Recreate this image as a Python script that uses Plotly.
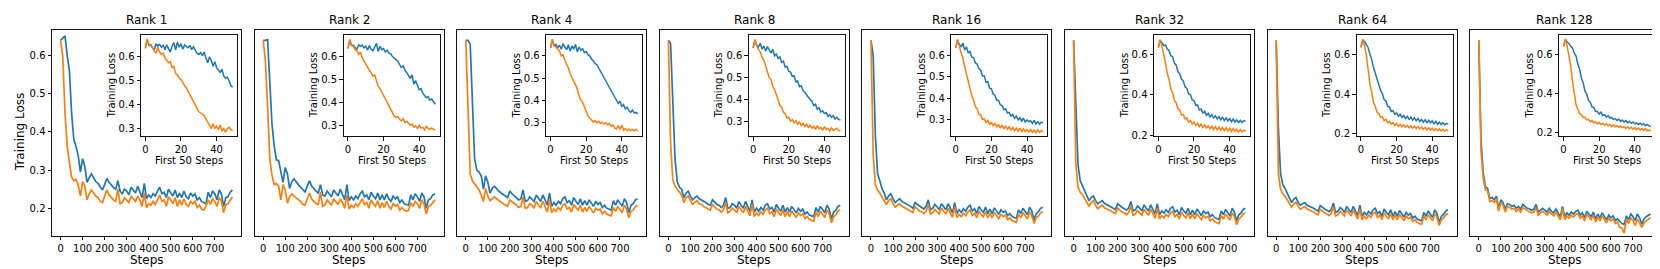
import plotly.graph_objects as go

# ---------------- data ----------------
ranks = ["Rank 1", "Rank 2", "Rank 4", "Rank 8", "Rank 16", "Rank 32", "Rank 64", "Rank 128"]
steps = list(range(0, 790, 10))
first_steps = list(range(0, 50))

r1_blue = [0.640,0.645,0.652,0.600,0.560,0.450,0.380,0.362,0.338,0.295,0.330,0.310,0.268,0.280,0.290,
           0.280,0.270,0.265,0.255,0.248, 0.262,0.278,0.268,0.260,0.255, 0.250,0.272,0.245,0.238,0.250,
           0.245,0.235,0.255,0.248,0.240, 0.258,0.245,0.228,0.265,0.225, 0.235,0.228,0.238,0.232,0.245,
           0.255,0.238,0.242,0.228,0.250, 0.240,0.232,0.248,0.228,0.240, 0.228,0.245,0.230,0.225,0.240,
           0.232,0.238,0.222,0.228,0.218, 0.215,0.212,0.242,0.228,0.245, 0.238,0.222,0.248,0.238,0.205,
           0.228,0.230,0.242,0.248]
r1_orange = [0.640,0.596,0.450,0.362,0.320,0.282,0.272,0.276,0.260,0.232,0.270,0.258,0.222,0.238,0.248,
             0.240,0.232,0.228,0.218,0.215, 0.232,0.248,0.235,0.228,0.222, 0.218,0.250,0.212,0.215,0.228,
             0.222,0.215,0.232,0.225,0.218, 0.232,0.222,0.205,0.240,0.202, 0.212,0.208,0.218,0.210,0.222,
             0.235,0.218,0.222,0.205,0.230, 0.222,0.212,0.228,0.205,0.222, 0.208,0.225,0.210,0.205,0.218,
             0.212,0.218,0.202,0.208,0.198, 0.195,0.205,0.222,0.210,0.225, 0.218,0.205,0.228,0.218,0.188,
             0.210,0.212,0.222,0.230]
r2_blue = [0.640,0.640,0.642,0.520,0.420,0.363,0.327,0.325,0.300,0.268,0.307,0.290,0.252,0.270,0.277,
           0.268,0.262,0.255,0.250,0.243, 0.258,0.272,0.258,0.250,0.245, 0.240,0.262,0.235,0.232,0.245,
           0.238,0.230,0.248,0.240,0.232, 0.250,0.238,0.222,0.262,0.220, 0.230,0.222,0.232,0.225,0.238,
           0.245,0.230,0.235,0.222,0.242, 0.232,0.225,0.240,0.222,0.235, 0.222,0.238,0.225,0.218,0.232,
           0.225,0.230,0.215,0.222,0.212, 0.210,0.208,0.235,0.222,0.238, 0.230,0.218,0.240,0.230,0.200,
           0.222,0.225,0.235,0.238]
r2_orange = [0.640,0.587,0.467,0.330,0.286,0.262,0.265,0.258,0.222,0.262,0.248,0.213,0.230,0.238,0.232,
             0.228,0.222,0.218,0.210,0.208, 0.225,0.240,0.225,0.218,0.212, 0.210,0.242,0.205,0.208,0.222,
             0.215,0.208,0.225,0.218,0.210, 0.225,0.215,0.200,0.235,0.198, 0.208,0.202,0.212,0.205,0.215,
             0.225,0.210,0.215,0.200,0.222, 0.212,0.205,0.220,0.200,0.215, 0.202,0.218,0.205,0.198,0.212,
             0.205,0.210,0.195,0.202,0.195, 0.192,0.195,0.215,0.205,0.218, 0.212,0.200,0.222,0.212,0.185,
             0.205,0.208,0.215,0.222]
r4_blue = [0.640,0.640,0.630,0.470,0.330,0.300,0.295,0.285,0.250,0.285,0.268,0.240,0.252,0.258,0.250,
           0.245,0.240,0.235,0.232,0.228, 0.245,0.238,0.232,0.228,0.222, 0.225,0.248,0.218,0.220,0.230,
           0.225,0.218,0.235,0.225,0.218, 0.235,0.222,0.208,0.240,0.205, 0.215,0.208,0.218,0.212,0.225,
           0.230,0.215,0.220,0.208,0.228, 0.218,0.210,0.225,0.208,0.220, 0.208,0.222,0.212,0.205,0.218,
           0.210,0.215,0.202,0.208,0.200, 0.198,0.195,0.220,0.208,0.222, 0.215,0.205,0.225,0.215,0.188,
           0.208,0.212,0.222,0.225]
r4_orange = [0.640,0.450,0.290,0.272,0.265,0.255,0.248,0.235,0.218,0.252,0.232,0.220,0.226,0.230,0.225,
             0.220,0.215,0.212,0.208,0.205, 0.222,0.218,0.212,0.208,0.202, 0.205,0.230,0.200,0.202,0.212,
             0.208,0.200,0.218,0.208,0.202, 0.218,0.205,0.190,0.222,0.188, 0.198,0.192,0.202,0.195,0.208,
             0.212,0.198,0.202,0.190,0.210, 0.202,0.195,0.208,0.190,0.202, 0.192,0.205,0.195,0.188,0.200,
             0.195,0.198,0.185,0.192,0.185, 0.182,0.180,0.202,0.192,0.205, 0.198,0.188,0.208,0.198,0.175,
             0.192,0.195,0.205,0.208]
r8_blue = [0.640,0.632,0.480,0.330,0.270,0.255,0.250,0.228,0.240,0.245,0.232,0.222,0.228,0.232,0.225,
           0.222,0.218,0.215,0.210,0.208, 0.222,0.215,0.210,0.208,0.202, 0.208,0.228,0.200,0.202,0.212,
           0.208,0.200,0.218,0.208,0.200, 0.218,0.205,0.192,0.222,0.190, 0.200,0.192,0.202,0.195,0.208,
           0.212,0.198,0.202,0.190,0.210, 0.200,0.192,0.208,0.190,0.202, 0.190,0.205,0.195,0.188,0.200,
           0.192,0.198,0.185,0.190,0.182, 0.180,0.178,0.202,0.190,0.205, 0.198,0.188,0.208,0.198,0.172,
           0.190,0.195,0.205,0.208]
r8_orange = [0.640,0.370,0.275,0.258,0.250,0.242,0.235,0.215,0.228,0.232,0.220,0.210,0.216,0.220,0.212,
             0.210,0.205,0.202,0.198,0.195, 0.210,0.204,0.198,0.196,0.190, 0.196,0.215,0.188,0.192,0.200,
             0.196,0.188,0.205,0.196,0.188, 0.205,0.194,0.180,0.210,0.178, 0.188,0.181,0.191,0.184,0.196,
             0.200,0.186,0.191,0.178,0.198, 0.189,0.181,0.196,0.178,0.191, 0.178,0.193,0.183,0.176,0.188,
             0.181,0.186,0.173,0.178,0.171, 0.168,0.166,0.190,0.178,0.193, 0.186,0.176,0.196,0.186,0.162,
             0.178,0.183,0.193,0.196]
r16_blue = [0.640,0.600,0.390,0.290,0.272,0.252,0.240,0.222,0.232,0.238,0.225,0.215,0.220,0.225,0.218,
            0.215,0.210,0.208,0.205,0.200, 0.215,0.210,0.205,0.202,0.198, 0.205,0.222,0.196,0.200,0.210,
            0.204,0.196,0.212,0.204,0.196, 0.212,0.200,0.188,0.215,0.186, 0.196,0.189,0.199,0.192,0.203,
            0.208,0.193,0.199,0.186,0.205, 0.196,0.189,0.203,0.186,0.198, 0.186,0.201,0.191,0.184,0.196,
            0.189,0.193,0.181,0.186,0.179, 0.176,0.174,0.196,0.186,0.200, 0.193,0.183,0.203,0.193,0.170,
            0.186,0.191,0.200,0.203]
r16_orange = [0.640,0.340,0.262,0.248,0.240,0.230,0.222,0.210,0.220,0.225,0.212,0.203,0.208,0.212,0.206,
              0.203,0.199,0.196,0.192,0.189, 0.204,0.198,0.193,0.191,0.186, 0.192,0.210,0.185,0.188,0.197,
              0.192,0.185,0.200,0.192,0.185, 0.200,0.188,0.176,0.204,0.175, 0.184,0.178,0.187,0.181,0.191,
              0.196,0.181,0.187,0.175,0.193, 0.184,0.178,0.191,0.175,0.187, 0.175,0.189,0.180,0.173,0.184,
              0.178,0.182,0.170,0.175,0.168, 0.165,0.163,0.184,0.175,0.188, 0.181,0.172,0.191,0.181,0.160,
              0.175,0.180,0.188,0.191]
r32_blue = [0.640,0.490,0.315,0.272,0.260,0.245,0.233,0.220,0.228,0.232,0.220,0.212,0.216,0.220,0.213,
            0.210,0.207,0.204,0.200,0.197, 0.212,0.206,0.202,0.199,0.195, 0.201,0.218,0.193,0.196,0.206,
            0.201,0.193,0.209,0.200,0.193, 0.209,0.197,0.185,0.212,0.183, 0.193,0.187,0.196,0.189,0.200,
            0.204,0.190,0.195,0.183,0.202, 0.193,0.187,0.200,0.183,0.195, 0.183,0.198,0.188,0.181,0.193,
            0.186,0.190,0.178,0.183,0.176, 0.173,0.171,0.193,0.183,0.197, 0.190,0.180,0.200,0.190,0.167,
            0.183,0.188,0.197,0.200]
r32_orange = [0.640,0.320,0.255,0.242,0.236,0.225,0.218,0.206,0.215,0.220,0.208,0.199,0.204,0.208,0.201,
              0.199,0.196,0.193,0.189,0.186, 0.200,0.195,0.190,0.188,0.183, 0.189,0.206,0.182,0.185,0.194,
              0.189,0.182,0.197,0.189,0.182, 0.197,0.185,0.174,0.200,0.172, 0.181,0.175,0.184,0.178,0.188,
              0.192,0.178,0.184,0.172,0.190, 0.181,0.175,0.188,0.172,0.184, 0.172,0.186,0.177,0.170,0.181,
              0.175,0.179,0.167,0.172,0.165, 0.162,0.160,0.181,0.172,0.185, 0.178,0.169,0.188,0.178,0.157,
              0.172,0.177,0.185,0.188]
r64_blue = [0.640,0.410,0.290,0.262,0.252,0.238,0.228,0.215,0.224,0.228,0.215,0.208,0.212,0.215,0.208,
            0.206,0.203,0.200,0.196,0.193, 0.207,0.202,0.198,0.195,0.191, 0.197,0.214,0.189,0.192,0.202,
            0.197,0.189,0.205,0.196,0.189, 0.205,0.193,0.181,0.208,0.179, 0.189,0.183,0.192,0.185,0.196,
            0.200,0.186,0.191,0.179,0.198, 0.189,0.183,0.196,0.179,0.191, 0.179,0.194,0.184,0.177,0.189,
            0.182,0.186,0.174,0.179,0.172, 0.169,0.167,0.189,0.179,0.193, 0.186,0.176,0.196,0.186,0.163,
            0.179,0.184,0.193,0.196]
r64_orange = [0.640,0.290,0.250,0.238,0.232,0.222,0.215,0.203,0.212,0.216,0.205,0.197,0.201,0.205,0.198,
              0.196,0.193,0.190,0.186,0.183, 0.197,0.192,0.188,0.185,0.181, 0.187,0.204,0.180,0.183,0.192,
              0.187,0.180,0.195,0.187,0.180, 0.195,0.183,0.172,0.198,0.170, 0.179,0.173,0.182,0.176,0.186,
              0.190,0.176,0.182,0.170,0.188, 0.179,0.173,0.186,0.170,0.182, 0.170,0.184,0.175,0.168,0.179,
              0.173,0.177,0.165,0.170,0.163, 0.160,0.158,0.179,0.170,0.183, 0.176,0.167,0.186,0.176,0.155,
              0.170,0.175,0.183,0.186]
r128_blue = [0.640,0.380,0.295,0.256,0.252,0.226,0.228,0.222,0.232,0.200,0.222,0.215,0.198,0.212,0.210,
             0.205,0.208,0.200,0.205,0.198, 0.210,0.205,0.200,0.198,0.195, 0.198,0.210,0.190,0.195,0.200,
             0.195,0.190,0.200,0.192,0.188, 0.198,0.188,0.178,0.205,0.178, 0.188,0.182,0.190,0.185,0.192,
             0.195,0.182,0.188,0.175,0.192, 0.185,0.178,0.190,0.172,0.185, 0.175,0.188,0.178,0.170,0.182,
             0.175,0.180,0.168,0.172,0.165, 0.160,0.158,0.180,0.170,0.185, 0.178,0.168,0.185,0.175,0.158,
             0.172,0.178,0.182,0.185]
r128_orange = [0.640,0.350,0.280,0.248,0.245,0.218,0.220,0.215,0.225,0.192,0.215,0.208,0.190,0.205,0.202,
               0.198,0.200,0.192,0.198,0.190, 0.202,0.198,0.192,0.190,0.188, 0.190,0.202,0.182,0.188,0.192,
               0.188,0.182,0.192,0.185,0.180, 0.190,0.180,0.170,0.198,0.170, 0.180,0.174,0.182,0.177,0.184,
               0.187,0.174,0.180,0.167,0.184, 0.177,0.170,0.182,0.164,0.177, 0.167,0.180,0.170,0.162,0.174,
               0.167,0.172,0.160,0.164,0.150, 0.148,0.135,0.172,0.160,0.175, 0.168,0.155,0.172,0.162,0.150,
               0.162,0.168,0.172,0.175]

# first 50 steps (inset)
i1_blue = [0.635,0.672,0.648,0.652,0.638,0.628,0.655,0.645,0.652,0.640,0.648,0.630,0.650,0.636,0.620,0.645,0.660,0.628,0.662,0.640,
           0.655,0.632,0.650,0.644,0.638,0.648,0.630,0.642,0.628,0.615,0.610,0.618,0.605,0.620,0.595,0.575,0.600,0.585,0.560,0.580,
           0.555,0.545,0.535,0.548,0.520,0.510,0.515,0.500,0.480,0.473]
i1_orange = [0.638,0.675,0.652,0.645,0.640,0.625,0.615,0.640,0.620,0.610,0.615,0.595,0.585,0.575,0.580,0.555,0.560,0.530,0.525,0.510,
             0.505,0.490,0.480,0.470,0.455,0.440,0.425,0.410,0.400,0.385,0.370,0.365,0.360,0.355,0.340,0.325,0.310,0.300,0.320,0.300,
             0.310,0.295,0.315,0.290,0.300,0.285,0.300,0.305,0.295,0.290]
i2_blue = [0.635,0.672,0.648,0.650,0.640,0.632,0.652,0.645,0.650,0.638,0.645,0.628,0.648,0.632,0.625,0.640,0.658,0.622,0.645,0.630,
           0.635,0.620,0.628,0.615,0.612,0.600,0.592,0.585,0.580,0.565,0.552,0.560,0.540,0.530,0.515,0.505,0.520,0.480,0.495,0.470,
           0.455,0.460,0.440,0.430,0.420,0.425,0.410,0.415,0.400,0.392]
i2_orange = [0.638,0.675,0.650,0.645,0.630,0.625,0.610,0.620,0.595,0.580,0.570,0.555,0.540,0.530,0.515,0.520,0.495,0.470,0.460,0.445,
             0.430,0.420,0.400,0.385,0.370,0.355,0.340,0.335,0.338,0.325,0.320,0.328,0.312,0.318,0.310,0.300,0.305,0.292,0.298,0.285,
             0.300,0.288,0.292,0.280,0.295,0.285,0.282,0.288,0.282,0.280]
i4_blue = [0.635,0.672,0.645,0.652,0.636,0.648,0.630,0.655,0.640,0.628,0.650,0.622,0.645,0.630,0.652,0.618,0.640,0.625,0.632,0.615,
           0.620,0.605,0.600,0.585,0.578,0.565,0.560,0.545,0.530,0.515,0.500,0.490,0.470,0.460,0.440,0.425,0.415,0.400,0.385,0.395,
           0.372,0.380,0.360,0.368,0.352,0.345,0.355,0.342,0.345,0.338]
i4_orange = [0.638,0.675,0.648,0.640,0.628,0.622,0.600,0.605,0.580,0.565,0.545,0.520,0.500,0.485,0.470,0.450,0.420,0.400,0.390,0.370,
             0.345,0.330,0.318,0.310,0.302,0.308,0.298,0.305,0.295,0.300,0.292,0.298,0.288,0.295,0.282,0.288,0.275,0.270,0.285,0.268,
             0.288,0.265,0.272,0.262,0.270,0.262,0.268,0.262,0.268,0.262]
i8_blue = [0.635,0.672,0.648,0.640,0.658,0.630,0.645,0.622,0.642,0.625,0.612,0.630,0.600,0.608,0.588,0.595,0.570,0.575,0.548,0.552,
           0.528,0.525,0.505,0.508,0.480,0.485,0.458,0.462,0.440,0.432,0.418,0.410,0.400,0.392,0.372,0.378,0.355,0.362,0.342,0.348,
           0.335,0.340,0.322,0.330,0.318,0.325,0.310,0.318,0.308,0.305]
i8_orange = [0.638,0.675,0.648,0.628,0.618,0.592,0.580,0.552,0.535,0.500,0.492,0.460,0.445,0.415,0.398,0.372,0.365,0.340,0.335,0.315,
             0.318,0.300,0.308,0.292,0.302,0.285,0.298,0.280,0.290,0.276,0.288,0.270,0.282,0.268,0.278,0.262,0.280,0.265,0.272,0.258,
             0.275,0.262,0.268,0.255,0.270,0.258,0.262,0.268,0.258,0.256]
i16_blue = [0.635,0.672,0.652,0.640,0.658,0.625,0.640,0.612,0.618,0.592,0.590,0.565,0.560,0.538,0.532,0.505,0.505,0.475,0.478,0.448,
            0.445,0.420,0.415,0.392,0.392,0.370,0.368,0.348,0.352,0.332,0.335,0.318,0.325,0.308,0.318,0.300,0.310,0.295,0.308,0.290,
            0.300,0.292,0.296,0.284,0.298,0.282,0.292,0.280,0.290,0.286]
i16_orange = [0.638,0.675,0.642,0.615,0.585,0.548,0.512,0.475,0.448,0.412,0.392,0.362,0.352,0.325,0.325,0.302,0.305,0.288,0.298,0.278,
              0.290,0.272,0.284,0.268,0.280,0.262,0.276,0.258,0.272,0.256,0.268,0.252,0.265,0.250,0.262,0.248,0.262,0.245,0.258,0.246,
              0.256,0.244,0.255,0.242,0.252,0.240,0.254,0.242,0.250,0.246]
i32_blue = [0.635,0.672,0.660,0.645,0.648,0.628,0.620,0.595,0.590,0.558,0.548,0.515,0.505,0.478,0.470,0.440,0.432,0.405,0.402,0.375,
            0.372,0.348,0.350,0.325,0.330,0.310,0.318,0.298,0.308,0.290,0.302,0.285,0.296,0.280,0.292,0.276,0.290,0.272,0.285,0.270,
            0.282,0.266,0.280,0.264,0.276,0.262,0.274,0.262,0.272,0.268]
i32_orange = [0.638,0.675,0.640,0.605,0.560,0.505,0.478,0.430,0.410,0.372,0.360,0.330,0.325,0.300,0.302,0.280,0.285,0.265,0.272,0.255,
              0.265,0.248,0.258,0.242,0.254,0.238,0.250,0.235,0.246,0.232,0.244,0.228,0.242,0.226,0.240,0.224,0.238,0.222,0.236,0.220,
              0.234,0.218,0.232,0.218,0.230,0.215,0.228,0.216,0.224,0.220]
i64_blue = [0.635,0.672,0.665,0.648,0.635,0.602,0.575,0.535,0.508,0.470,0.452,0.418,0.402,0.372,0.365,0.338,0.335,0.312,0.316,0.298,
            0.305,0.288,0.298,0.282,0.292,0.276,0.288,0.272,0.284,0.268,0.280,0.265,0.276,0.262,0.272,0.258,0.270,0.256,0.268,0.254,
            0.265,0.250,0.262,0.248,0.258,0.246,0.256,0.244,0.252,0.248]
i64_orange = [0.638,0.675,0.645,0.598,0.525,0.452,0.410,0.358,0.340,0.308,0.302,0.282,0.285,0.266,0.272,0.255,0.262,0.248,0.256,0.242,
              0.252,0.238,0.248,0.235,0.245,0.232,0.242,0.230,0.240,0.228,0.238,0.226,0.236,0.224,0.234,0.222,0.232,0.220,0.230,0.218,
              0.228,0.216,0.226,0.215,0.224,0.214,0.222,0.212,0.220,0.214]
i128_blue = [0.640,0.675,0.662,0.655,0.640,0.632,0.605,0.592,0.550,0.525,0.478,0.455,0.412,0.398,0.365,0.355,0.332,0.328,0.308,0.308,
             0.295,0.305,0.288,0.292,0.280,0.286,0.275,0.278,0.268,0.272,0.262,0.270,0.258,0.265,0.255,0.262,0.250,0.258,0.248,0.255,
             0.245,0.250,0.242,0.248,0.240,0.246,0.236,0.242,0.235,0.232]
i128_orange = [0.640,0.678,0.642,0.598,0.542,0.462,0.395,0.342,0.320,0.298,0.292,0.278,0.278,0.265,0.268,0.255,0.262,0.250,0.256,0.245,
               0.252,0.242,0.248,0.238,0.246,0.236,0.242,0.232,0.240,0.230,0.236,0.228,0.234,0.225,0.232,0.222,0.230,0.220,0.228,0.218,
               0.226,0.216,0.224,0.214,0.222,0.212,0.220,0.210,0.214,0.210]

main_blue = [r1_blue, r2_blue, r4_blue, r8_blue, r16_blue, r32_blue, r64_blue, r128_blue]
main_orange = [r1_orange, r2_orange, r4_orange, r8_orange, r16_orange, r32_orange, r64_orange, r128_orange]
inset_blue = [i1_blue, i2_blue, i4_blue, i8_blue, i16_blue, i32_blue, i64_blue, i128_blue]
inset_orange = [i1_orange, i2_orange, i4_orange, i8_orange, i16_orange, i32_orange, i64_orange, i128_orange]

main_xticks = [0, 100, 200, 300, 400, 500, 600, 700]
main_yticks = [0.2, 0.3, 0.4, 0.5, 0.6]
inset_xticks = [0, 20, 40]
inset_yticks = [[0.3, 0.4, 0.5, 0.6]] * 5 + [[0.2, 0.4, 0.6]] * 3
inset_yranges = [[0.2685, 0.693], [0.253, 0.696], [0.238, 0.696], [0.232, 0.697],
                 [0.225, 0.697], [0.195, 0.700], [0.188, 0.700], [0.183, 0.700]]

# ---------------- layout helpers ----------------
W, H = 1660, 269
BLUE, ORANGE = "#1f77b4", "#ff7f0e"
FONT = "DejaVu Sans"
PITCH = 202.6
TICK_SIZE = 10
LABEL_SIZE = 12
INSET_LABEL_SIZE = 10


def px(x):
    return x / W


def py(y):
    return 1 - y / H


fig = go.Figure()
layout = dict(
    width=W, height=H, margin=dict(l=0, r=0, t=0, b=0),
    paper_bgcolor="white", plot_bgcolor="white", showlegend=False,
    font=dict(family=FONT, size=TICK_SIZE, color="black"),
)
annotations = []

axis_common = dict(showline=True, mirror=True, linecolor="#111111", linewidth=1,
                   showgrid=False, zeroline=False, ticks="outside", ticklen=3.5,
                   tickwidth=1, tickcolor="#111111", tickangle=0,
                   tickfont=dict(family=FONT, size=TICK_SIZE, color="black"))

for i in range(8):
    L = 44 + i * PITCH
    R = L + 189
    T, B = 22, 231
    IL, IR, IT, IB = L + 89, L + 185, 27, 130
    mx, my = 2 * i + 1, 2 * i + 1
    ix, iy = 2 * i + 2, 2 * i + 2
    mxn = "x" if mx == 1 else f"x{mx}"
    myn = "y" if my == 1 else f"y{my}"
    ixn, iyn = f"x{ix}", f"y{iy}"

    fig.add_trace(go.Scatter(x=steps, y=main_blue[i], mode="lines", line=dict(color=BLUE, width=1.7),
                             xaxis=mxn, yaxis=myn))
    fig.add_trace(go.Scatter(x=steps, y=main_orange[i], mode="lines", line=dict(color=ORANGE, width=1.7),
                             xaxis=mxn, yaxis=myn))
    fig.add_trace(go.Scatter(x=first_steps, y=inset_blue[i], mode="lines", line=dict(color=BLUE, width=1.5),
                             xaxis=ixn, yaxis=iyn))
    fig.add_trace(go.Scatter(x=first_steps, y=inset_orange[i], mode="lines", line=dict(color=ORANGE, width=1.5),
                             xaxis=ixn, yaxis=iyn))

    kx = "xaxis" if mx == 1 else f"xaxis{mx}"
    ky = "yaxis" if my == 1 else f"yaxis{my}"
    layout[kx] = dict(axis_common, domain=[px(L), px(R)], range=[-39, 819], anchor=myn,
                      tickvals=main_xticks)
    ycfg = dict(axis_common, domain=[py(B), py(T)], range=[0.1285, 0.668], anchor=mxn,
                tickvals=main_yticks, ticktext=[f"{v:.1f}" for v in main_yticks],
                showticklabels=(i == 0))
    if i > 0:
        ycfg["ticks"] = ""
    layout[ky] = ycfg
    layout[f"xaxis{ix}"] = dict(axis_common, domain=[px(IL), px(IR)], range=[-2.45, 51.45], anchor=iyn,
                                tickvals=inset_xticks)
    layout[f"yaxis{iy}"] = dict(axis_common, domain=[py(IB), py(IT)], range=inset_yranges[i], anchor=ixn,
                                tickvals=inset_yticks[i], ticktext=[f"{v:.1f}" for v in inset_yticks[i]])

    annotations.append(dict(text=ranks[i], x=px((L + R) / 2), y=py(12.5), xref="paper", yref="paper",
                            showarrow=False, xanchor="center", yanchor="middle",
                            font=dict(family=FONT, size=LABEL_SIZE, color="black")))
    annotations.append(dict(text="Steps", x=px((L + R) / 2), y=py(256), xref="paper", yref="paper",
                            showarrow=False, xanchor="center", yanchor="middle",
                            font=dict(family=FONT, size=LABEL_SIZE, color="black")))
    annotations.append(dict(text="First 50 Steps", x=px((IL + IR) / 2), y=py(155), xref="paper", yref="paper",
                            showarrow=False, xanchor="center", yanchor="middle",
                            font=dict(family=FONT, size=INSET_LABEL_SIZE, color="black")))
    annotations.append(dict(text="Training Loss", x=px(IL - 30), y=py((IT + IB) / 2), xref="paper", yref="paper",
                            showarrow=False, xanchor="center", yanchor="middle", textangle=-90,
                            font=dict(family=FONT, size=INSET_LABEL_SIZE, color="black")))

annotations.append(dict(text="Training Loss", x=px(12), y=py(126), xref="paper", yref="paper",
                        showarrow=False, xanchor="center", yanchor="middle", textangle=-90,
                        font=dict(family=FONT, size=LABEL_SIZE, color="black")))
layout["annotations"] = annotations
fig.update_layout(**layout)
fig.write_html("out.html")
